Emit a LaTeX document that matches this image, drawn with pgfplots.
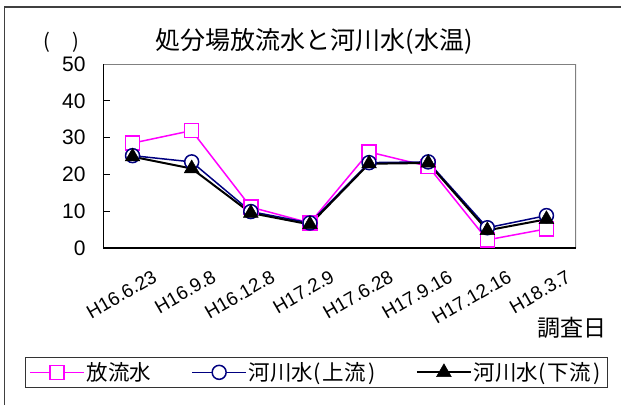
\documentclass[border=0pt]{standalone}
\usepackage{fontspec}
\setmainfont{Liberation Sans}
\newfontfamily\jp{Noto Sans CJK JP}
\usepackage{pgfplots}
\pgfplotsset{compat=1.18}
\definecolor{mag}{RGB}{255,0,255}
\definecolor{nav}{RGB}{0,0,128}
\begin{document}
\begin{tikzpicture}
\draw[line width=1.5pt, black!75] (4.5pt,0pt) -- (4.5pt,398pt) -- (621pt,398pt);
\node[font=\jp\fontsize{25}{29}\selectfont] at (314pt,364pt) {処分場放流水と河川水(水温)};
\node[font=\jp\fontsize{20}{24}\selectfont] at (61pt,363pt) {(\hspace{1.1em})};
\node[font=\jp\fontsize{23}{27}\selectfont] at (572pt,77.5pt) {調査日};
\begin{axis}[
  at={(103pt,157pt)}, anchor=south west, scale only axis,
  width=473pt, height=184pt,
  xmin=0, xmax=8, ymin=0, ymax=50,
  /pgf/number format/assume math mode=true,
  axis line style={draw=none},
  tick align=inside,
  xtick pos=bottom, ytick pos=left,
  ytick={0,10,20,30,40,50},
  major tick length=7pt,
  tick style={black, line width=1pt},
  yticklabel style={font=\fontsize{21}{24}\selectfont, xshift=-14pt},
  xtick={0.5,1.5,2.5,3.5,4.5,5.5,6.5,7.5},
  xticklabels={H16.6.23,H16.9.8,H16.12.8,H17.2.9,H17.6.28,H17.9.16,H17.12.16,H18.3.7},
  x tick style={draw=none},
  minor xtick={1,2,3,4,5,6,7},
  minor x tick style={black, line width=1pt},
  minor tick length=8pt,
  x tick label style={font=\fontsize{19}{22}\selectfont, xshift=19pt, rotate=30, anchor=north east, inner sep=0pt},
  xticklabel shift=21pt,
  legend columns=3,
  legend style={at={(-0.1649,-0.761)}, anchor=south west, draw=black!80, line width=0.8pt,
    font=\jp\fontsize{21.5}{24}\selectfont, inner xsep=4pt, inner ysep=3.5pt,
    /tikz/every even column/.append style={column sep=38pt}},
  legend image code/.code={\draw[mark repeat=2,mark phase=2] plot coordinates {(0pt,0pt)(27pt,0pt)(54pt,0pt)};},
]
\draw[black!50, line width=1.2pt] (rel axis cs:0,1) -- (rel axis cs:1,1) -- (rel axis cs:1,0);
\draw[black, line width=1.2pt] (rel axis cs:0,1) -- (rel axis cs:0,0) -- (rel axis cs:1,0);
\addplot[mag, line width=1.5pt, mark=square*, mark size=7pt, mark options={fill=white, line width=1.5pt}]
  coordinates {(0.5,28.5)(1.5,31.9)(2.5,11.1)(3.5,6.8)(4.5,26.1)(5.5,22.2)(6.5,2.2)(7.5,5.2)};
\addlegendentry{放流水}
\addplot[nav, line width=1.5pt, mark=*, mark size=7pt, mark options={fill=white, line width=1.5pt}]
  coordinates {(0.5,25.1)(1.5,23.4)(2.5,9.9)(3.5,6.8)(4.5,23.2)(5.5,23.4)(6.5,5.5)(7.5,8.8)};
\addlegendentry{河川水(\hspace{2pt}上流\hspace{3pt})}
\addplot[black, line width=2pt, mark=triangle*, mark size=8.5pt, mark options={fill=black, line width=0.5pt}]
  coordinates {(0.5,24.8)(1.5,21.6)(2.5,9.5)(3.5,6.4)(4.5,22.9)(5.5,23.1)(6.5,4.8)(7.5,7.8)};
\addlegendentry{河川水(\hspace{2pt}下流\hspace{3pt})}
\end{axis}
\pgfresetboundingbox
\useasboundingbox (0pt,0pt) rectangle (621pt,405pt);
\end{tikzpicture}
\end{document}
